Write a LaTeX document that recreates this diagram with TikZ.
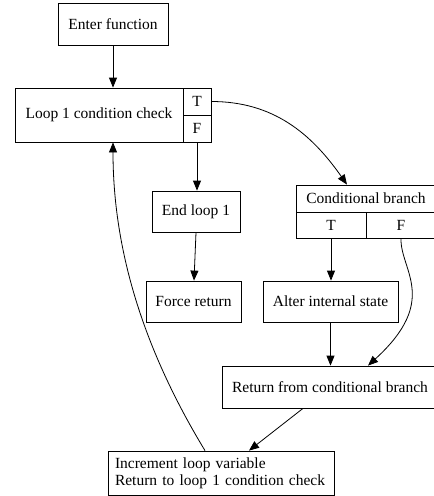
\documentclass[tikz,border=0pt]{standalone}
\usepackage{fontspec}
\setmainfont{Liberation Serif}
\usetikzlibrary{arrows.meta}
\begin{document}
\begin{tikzpicture}[x=1pt,y=1pt,
  box/.style={draw,line width=0.8pt,inner sep=0pt,font=\fontsize{15.5}{17}\selectfont},
  arr/.style={line width=0.8pt,-{Triangle[length=10pt,width=8pt]}}]
\useasboundingbox (0,0) rectangle (434,-496);
\node[box,minimum width=110,minimum height=42] (enter) at (113,-24) {Enter function};
\node[box,minimum width=168,minimum height=54] (loop) at (99,-115) {Loop 1 condition check};
\node[box,minimum width=28,minimum height=27] (lt) at (197,-101.5) {T};
\node[box,minimum width=28,minimum height=27] (lf) at (197,-128.5) {F};
\node[box,minimum width=88,minimum height=41] (endl) at (196,-211.5) {End loop 1};
\node[box,minimum width=95,minimum height=41] (force) at (193.5,-301.5) {Force return};
\node[box,minimum width=140,minimum height=27] (condh) at (366,-198.5) {Conditional branch};
\node[box,minimum width=70,minimum height=26] (ct) at (331,-225) {T};
\node[box,minimum width=70,minimum height=26] (cf) at (401,-225) {F};
\node[box,minimum width=135,minimum height=41] (alter) at (330.5,-301.5) {Alter internal state};
\node[box,minimum width=216,minimum height=42] (ret) at (330,-387) {Return from conditional branch};
\node[box,minimum width=226,minimum height=44,align=left,text width=212,inner xsep=7pt] (incr) at (221,-473) {Increment loop variable\\Return to loop 1 condition check};
\draw[arr] (enter.south) -- (enter.south |- loop.north);
\draw[arr] (lt.east) to[out=0,in=125] ([xshift=-19pt]condh.north);
\draw[arr] (lf.south) -- (lf.south |- endl.north);
\draw[arr] (endl.south) -- ([xshift=0.5pt]force.north);
\draw[arr] (ct.south) -- (ct.south |- alter.north);
\draw[arr] (cf.south) .. controls (400,-270) and (440,-300) .. ([xshift=38pt]ret.north);
\draw[arr] (alter.south) -- (alter.south |- ret.north);
\draw[arr] ([xshift=-27pt]ret.south) -- ([xshift=28pt]incr.north);
\draw[arr] ([xshift=-16pt]incr.north) .. controls (150,-360) and (113,-260) .. ([xshift=14pt]loop.south);
\end{tikzpicture}
\end{document}
